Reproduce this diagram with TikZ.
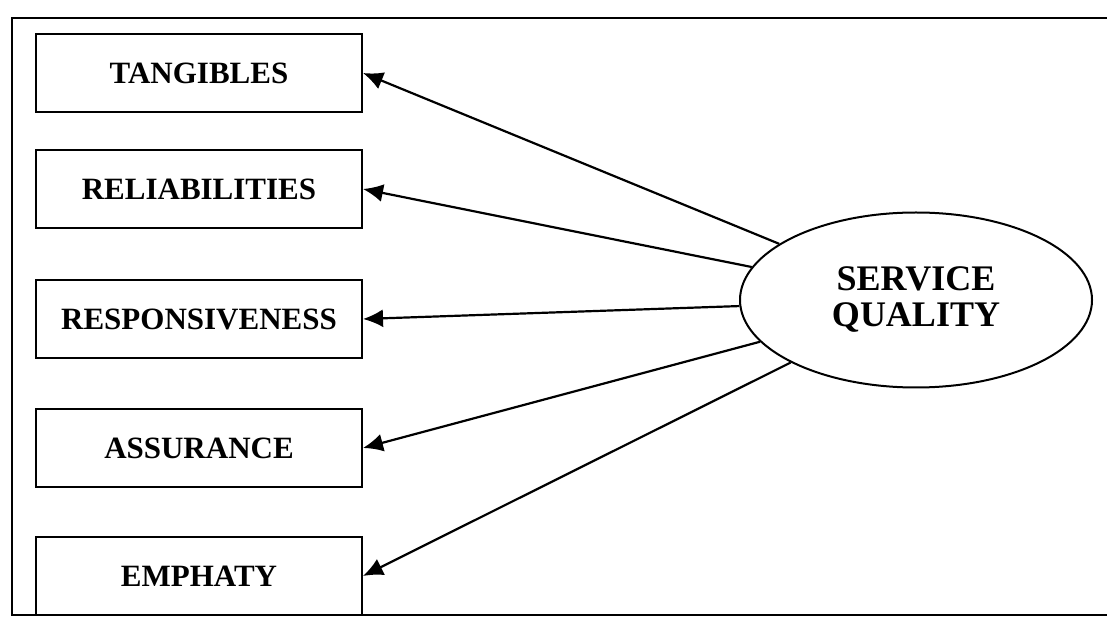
\documentclass[tikz,border=0pt]{standalone}
\usepackage{fontspec}
\setmainfont{Liberation Serif}
\usepackage{tikz}
\usetikzlibrary{shapes.geometric, arrows.meta}
\tikzset{
    block_dim/.style={rectangle, draw, line width=1pt, minimum width=163pt, minimum height=39pt, inner sep=0pt, font=\bfseries\fontsize{15.5}{17}\selectfont},
    block_core/.style={ellipse, draw, line width=1pt, minimum width=176pt, minimum height=87.5pt, inner sep=0pt, align=center, font=\bfseries\fontsize{18}{18}\selectfont},
    arrow/.style={-{Latex[length=10pt, width=9pt]}, line width=1.1pt}
}

\begin{document}
\begin{tikzpicture}[x=0.5pt, y=-0.5pt]
            \useasboundingbox (0,0) rectangle (1107,624);

            % Frame
            \draw[line width=1.2pt] (1107,18) -- (12,18) -- (12,615) -- (1107,615);

            % Dimensions
            \node[block_dim] (tangibles) at (199,73) {TANGIBLES};
            \node[block_dim] (reliabilities) at (199,189) {RELIABILITIES};
            \node[block_dim] (responsiveness) at (199,319) {RESPONSIVENESS};
            \node[block_dim] (assurance) at (199,448) {ASSURANCE};
            \node[block_dim] (emphaty) at (199,576) {EMPHATY};

            % Service quality
            \node[block_core] (quality) at (916,300) {SERVICE\\QUALITY};

            % Arrows
            \draw[arrow] (quality) -- (tangibles.east);
            \draw[arrow] (quality) -- (reliabilities.east);
            \draw[arrow] (quality) -- (responsiveness.east);
            \draw[arrow] (quality) -- (assurance.east);
            \draw[arrow] (quality) -- (emphaty.east);
\end{tikzpicture}
\end{document}
